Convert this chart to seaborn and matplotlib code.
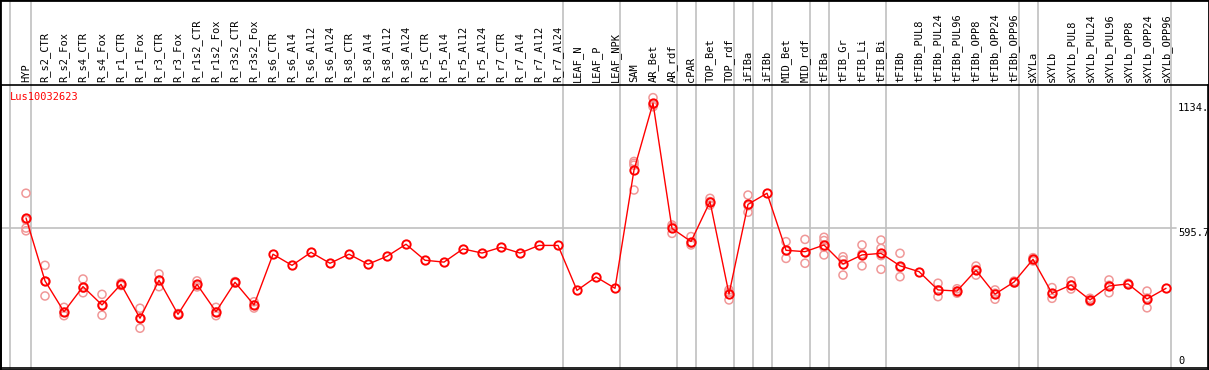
import numpy as np
import pandas as pd
import matplotlib
matplotlib.use('Agg')
import matplotlib.pyplot as plt
import seaborn as sns

# подписи колонок (образцы)
labels = ['HYP',
          'R_s2_CTR', 'R_s2_Fox', 'R_s4_CTR', 'R_s4_Fox', 'R_r1_CTR', 'R_r1_Fox',
          'R_r3_CTR', 'R_r3_Fox', 'R_r1s2_CTR', 'R_r1s2_Fox', 'R_r3s2_CTR', 'R_r3s2_Fox',
          'R_s6_CTR', 'R_s6_Al4', 'R_s6_Al12', 'R_s6_Al24',
          'R_s8_CTR', 'R_s8_Al4', 'R_s8_Al12', 'R_s8_Al24',
          'R_r5_CTR', 'R_r5_Al4', 'R_r5_Al12', 'R_r5_Al24',
          'R_r7_CTR', 'R_r7_Al4', 'R_r7_Al12', 'R_r7_Al24',
          'LEAF_N', 'LEAF_P', 'LEAF_NPK', 'SAM', 'AR_Bet', 'AR_rdf', 'cPAR',
          'TOP_Bet', 'TOP_rdf', 'iFIBa', 'iFIBb', 'MID_Bet', 'MID_rdf',
          'tFIBa', 'tFIB_Gr', 'tFIB_Li', 'tFIB_Bi', 'tFIBb',
          'tFIBb_PUL8', 'tFIBb_PUL24', 'tFIBb_PUL96', 'tFIBb_OPP8', 'tFIBb_OPP24', 'tFIBb_OPP96',
          'sXYLa', 'sXYLb',
          'sXYLb_PUL8', 'sXYLb_PUL24', 'sXYLb_PUL96', 'sXYLb_OPP8', 'sXYLb_OPP24', 'sXYLb_OPP96']

# повторности по каждой колонке
reps = [[745, 630, 595, 583],
        [434, 365, 302], [253, 232, 217], [375, 336, 316], [309, 262, 219],
        [358, 352, 347], [249, 206, 163], [397, 370, 342], [226, 223, 220],
        [367, 348, 341], [253, 233, 217], [364, 361, 358], [277, 263, 250],
        [482], [434], [490], [443],
        [482], [439], [473], [525],
        [456], [448], [505], [487],
        [512], [487], [520], [520],
        [326], [384], [335],
        [882, 874, 866, 759], [1157, 1126, 1118], [608, 600, 572], [558, 530, 522],
        [723, 709, 694], [328, 318, 285], [737, 691, 663], [745],
        [536, 497, 464], [546, 490, 443],
        [555, 541, 512, 479], [471, 457, 392], [522, 483, 432], [543, 507, 476, 417],
        [486, 425, 385],
        [407], [357, 328, 299], [333, 323, 314], [431, 416, 392], [328, 314, 288], [366, 362, 358],
        [467, 460, 453], [338, 310, 292],
        [367, 349, 332], [292, 285, 278], [371, 348, 316], [357, 354, 351], [323, 293, 251], [335]]

# после каких колонок идут серые разделители
sep_after = [0, 28, 31, 34, 35, 37, 38, 39, 41, 42, 45, 52, 53, 60]
gene = 'Lus10032623'
ytick_vals = [0, 595.7, 1134]
ytick_text = ['0', '595.7', '1134.']

rows = [(i, v) for i, r in enumerate(reps) for v in r]
df = pd.DataFrame(rows, columns=['pos', 'value'])
multi = df[df.groupby('pos')['value'].transform('size') > 1]

sns.set_style('white')
plt.rcParams['font.family'] = ['DejaVu Sans Mono']
plt.rcParams['font.size'] = 7.5

fig = plt.figure(figsize=(12.09, 3.70), dpi=100)
ax = fig.add_axes([1 / 1209, 2 / 370, 1207 / 1209, 283 / 370])

grey = '#c0c0c0'
top_ext = 1 + 85 / 283

# серые вертикальные разделители (через всю высоту)
ax.axvline(-0.84, ymin=0, ymax=top_ext, color=grey, lw=1.2, clip_on=False, zorder=0)
for s in sep_after:
    ax.axvline(s + 0.24, ymin=0, ymax=top_ext, color=grey, lw=1.2, clip_on=False, zorder=0)
ax.axhline(595.7, xmin=0, xmax=1175 / 1207, color=grey, lw=1.2, zorder=0)

# повторности
sns.scatterplot(data=multi, x='pos', y='value', ax=ax, marker='o', s=34,
                facecolor='none', edgecolor='#f09898', linewidth=1.1, zorder=2)

# средние
sns.lineplot(data=df, x='pos', y='value', estimator='mean', errorbar=None, ax=ax,
             color='red', lw=1, marker='o', markersize=6, markerfacecolor='none',
             markeredgecolor='red', markeredgewidth=1.4, zorder=3)

ax.set_xlim(-1.316, 62.21)
ax.set_ylim(-8.6, 1211.7)
ax.set_xticks([])
ax.set_yticks([])
ax.set_xlabel('')
ax.set_ylabel('')
for sp in ax.spines.values():
    sp.set_color('black')
    sp.set_linewidth(1.2)

# подписи колонок
for i, lab in enumerate(labels):
    ax.text(i, 1 + 3 / 283, lab, rotation=90, ha='center', va='bottom',
            transform=ax.get_xaxis_transform(), color='black')

# подписи оси Y справа
for v, t in zip(ytick_vals, ytick_text):
    ax.text(1177 / 1207, v, t, ha='left', va='bottom' if v == 0 else 'top',
            transform=ax.get_yaxis_transform(), color='black')

fig.text(10 / 1209, 1 - 97 / 370, gene, color='red', ha='left', va='center')

fig.add_artist(plt.Rectangle((0, 0), 1, 1, transform=fig.transFigure,
                             fill=False, ec='black', lw=2))

fig.savefig('out.png', dpi=100)
